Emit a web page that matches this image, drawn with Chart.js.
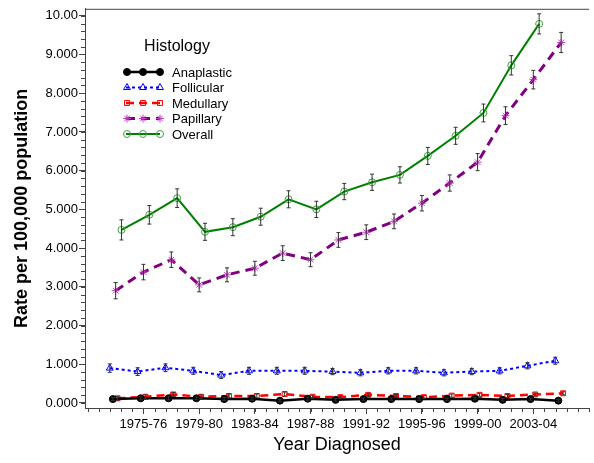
<!DOCTYPE html>
<html>
<head>
<meta charset="utf-8">
<script src="https://cdn.jsdelivr.net/npm/chart.js@4.4.1/dist/chart.umd.min.js"></script>
<style>
  html, body { margin: 0; padding: 0; background: #fff; }
  #wrap { width: 594px; height: 463px; }
</style>
</head>
<body>
<div id="wrap"><canvas id="rateChart" width="594" height="463"></canvas></div>
<script>
// Year Diagnosed periods (2-year groups)
const periods = ['1973-74', '1975-76', '1977-78', '1979-80', '1981-82', '1983-84', '1985-86', '1987-88',
    '1989-90', '1991-92', '1993-94', '1995-96', '1997-98', '1999-00', '2001-02', '2003-04', '2005-06'];
const xTickLabels = ['1975-76', '1979-80', '1983-84', '1987-88', '1991-92', '1995-96', '1999-00', '2003-04'];
const yTickLabels = ['0.000', '1.000', '2.000', '3.000', '4.000', '5.000', '6.000', '7.000', '8.000', '9.000', '10.00'];

// rate per 100,000 and half-width of the error bar
const anaplastic = [0.10, 0.12, 0.12, 0.12, 0.10, 0.11, 0.06, 0.11, 0.08, 0.10, 0.10, 0.10, 0.10, 0.11, 0.08, 0.10, 0.06];
const anaplasticErr = [0.04, 0.04, 0.04, 0.04, 0.04, 0.04, 0.03, 0.04, 0.03, 0.03, 0.03, 0.03, 0.03, 0.03, 0.03, 0.03, 0.03];
const follicular = [0.90, 0.81, 0.91, 0.83, 0.72, 0.83, 0.83, 0.83, 0.81, 0.78, 0.83, 0.83, 0.78, 0.81, 0.83, 0.96, 1.09];
const follicularErr = [0.11, 0.10, 0.10, 0.09, 0.09, 0.09, 0.09, 0.09, 0.08, 0.08, 0.08, 0.08, 0.08, 0.08, 0.08, 0.08, 0.09];
const medullary = [0.12, 0.16, 0.22, 0.16, 0.18, 0.18, 0.23, 0.16, 0.15, 0.21, 0.18, 0.15, 0.19, 0.21, 0.18, 0.22, 0.25];
const medullaryErr = [0.05, 0.05, 0.05, 0.05, 0.05, 0.05, 0.05, 0.04, 0.04, 0.04, 0.04, 0.04, 0.04, 0.04, 0.04, 0.04, 0.04];
const papillary = [2.90, 3.38, 3.70, 3.05, 3.31, 3.48, 3.87, 3.70, 4.21, 4.41, 4.69, 5.16, 5.68, 6.22, 7.42, 8.35, 9.31];
const papillaryErr = [0.21, 0.20, 0.20, 0.18, 0.18, 0.18, 0.19, 0.18, 0.19, 0.19, 0.19, 0.20, 0.21, 0.22, 0.23, 0.24, 0.26];
const overall = [4.47, 4.86, 5.29, 4.42, 4.54, 4.81, 5.26, 5.00, 5.46, 5.70, 5.89, 6.38, 6.90, 7.49, 8.72, 9.79];
const overallErr = [0.26, 0.24, 0.24, 0.22, 0.22, 0.22, 0.22, 0.21, 0.21, 0.21, 0.21, 0.22, 0.22, 0.23, 0.25, 0.26];

function makeSeries(label, values, errors, shift, style) {
    return Object.assign({
        label: label,
        data: values.map((v, i) => ({ x: i + shift, y: v })),
        errors: errors,
        fill: false,
        tension: 0,
        pointHoverRadius: 0
    }, style);
}

const datasets = [
    makeSeries('Anaplastic', anaplastic, anaplasticErr, -0.1, {
        borderColor: '#000', borderWidth: 2.5, pointStyle: 'circle', pointRadius: 3.5,
        pointBackgroundColor: '#000', pointBorderColor: '#000', pointBorderWidth: 1
    }),
    makeSeries('Follicular', follicular, follicularErr, -0.21, {
        borderColor: '#0000ff', borderWidth: 2, borderDash: [3, 3], pointStyle: 'triangle', pointRadius: 4,
        pointBackgroundColor: 'rgba(0,0,0,0)', pointBorderColor: '#0000ff', pointBorderWidth: 1
    }),
    makeSeries('Medullary', medullary, medullaryErr, 0.07, {
        borderColor: '#ff0000', borderWidth: 2.5, borderDash: [8, 5], pointStyle: 'rect', pointRadius: 3.5,
        pointBackgroundColor: 'rgba(0,0,0,0)', pointBorderColor: '#ff0000', pointBorderWidth: 1
    }),
    makeSeries('Papillary', papillary, papillaryErr, 0, {
        borderColor: '#800080', borderWidth: 3, borderDash: [9, 6], pointStyle: 'star', pointRadius: 4,
        pointBackgroundColor: 'rgba(0,0,0,0)', pointBorderColor: '#c040c0', pointBorderWidth: 1
    }),
    makeSeries('Overall', overall, overallErr, 0.21, {
        borderColor: '#008000', borderWidth: 2, pointStyle: 'circle', pointRadius: 3.5,
        pointBackgroundColor: 'rgba(0,0,0,0)', pointBorderColor: '#40a040', pointBorderWidth: 1
    })
];

const errorBars = {
    id: 'errorBars',
    afterDatasetsDraw(chart) {
        const ctx = chart.ctx;
        const y = chart.scales.y;
        ctx.save();
        ctx.strokeStyle = '#333';
        ctx.lineWidth = 1;
        chart.data.datasets.forEach((ds, i) => {
            const meta = chart.getDatasetMeta(i);
            meta.data.forEach((pt, j) => {
                const v = ds.data[j].y, e = ds.errors[j];
                const top = y.getPixelForValue(v + e), bot = y.getPixelForValue(v - e);
                ctx.beginPath();
                ctx.moveTo(pt.x, top); ctx.lineTo(pt.x, bot);
                ctx.moveTo(pt.x - 2, top); ctx.lineTo(pt.x + 2, top);
                ctx.moveTo(pt.x - 2, bot); ctx.lineTo(pt.x + 2, bot);
                ctx.stroke();
            });
        });
        ctx.restore();
    }
};

const frame = {
    id: 'frame',
    afterDraw(chart) {
        const ctx = chart.ctx;
        const a = chart.chartArea;
        const xs = chart.scales.x, ys = chart.scales.y;
        ctx.save();
        ctx.strokeStyle = '#444';
        ctx.lineWidth = 1;
        ctx.beginPath();
        ctx.moveTo(a.left, a.top + 0.5); ctx.lineTo(a.right, a.top + 0.5);
        // minor ticks
        for (let v = -1.0; v <= xs.max + 0.001; v += 0.4) {
            const px = Math.round(xs.getPixelForValue(v)) + 0.5;
            ctx.moveTo(px, a.bottom); ctx.lineTo(px, a.bottom + 4);
        }
        for (let k = 0; k <= 50; k++) {
            const py = Math.round(ys.getPixelForValue(k * 0.2)) + 0.5;
            ctx.moveTo(a.left, py); ctx.lineTo(a.left - 4, py);
        }
        ctx.stroke();
        ctx.restore();
    }
};

const legendBox = {
    id: 'legendBox',
    afterDraw(chart) {
        const ctx = chart.ctx;
        ctx.save();
        ctx.fillStyle = '#000';
        ctx.font = '16px "Liberation Sans", Arial, sans-serif';
        ctx.textAlign = 'center';
        ctx.textBaseline = 'middle';
        ctx.fillText('Histology', 177, 47);
        ctx.font = '13px "Liberation Sans", Arial, sans-serif';
        ctx.textAlign = 'left';
        chart.data.datasets.forEach((ds, i) => {
            const rowY = 72 + i * 15.5;
            ctx.save();
            ctx.strokeStyle = ds.borderColor;
            ctx.lineWidth = ds.borderWidth;
            ctx.setLineDash(ds.borderDash || []);
            ctx.beginPath();
            ctx.moveTo(126, rowY); ctx.lineTo(160, rowY);
            ctx.stroke();
            ctx.setLineDash([]);
            ctx.strokeStyle = ds.pointBorderColor;
            ctx.fillStyle = ds.pointBackgroundColor;
            ctx.lineWidth = ds.pointBorderWidth;
            [127, 143, 160].forEach(px => {
                Chart.helpers.drawPoint(ctx, {
                    pointStyle: ds.pointStyle, radius: ds.pointRadius, rotation: 0, borderWidth: 1
                }, px, rowY);
            });
            ctx.restore();
            ctx.fillStyle = '#000';
            ctx.fillText(ds.label, 172, rowY + 1);
        });
        ctx.restore();
    }
};

new Chart(document.getElementById('rateChart'), {
    type: 'line',
    data: { datasets: datasets },
    options: {
        responsive: false,
        animation: false,
        events: [],
        layout: { padding: { top: 8, right: 0, left: 0, bottom: 0 } },
        plugins: {
            legend: { display: false },
            tooltip: { enabled: false }
        },
        scales: {
            x: {
                type: 'linear',
                min: -1.1,
                max: 17.0,
                afterFit: s => { s.height = 55; },
                afterBuildTicks: s => { s.ticks = xTickLabels.map(l => ({ value: periods.indexOf(l) })); },
                ticks: {
                    callback: v => periods[v],
                    color: '#000',
                    padding: 3,
                    maxRotation: 0,
                    autoSkip: false,
                    font: { family: '"Liberation Sans", Arial, sans-serif', size: 13 }
                },
                grid: { drawOnChartArea: false, tickLength: 6, tickColor: '#444' },
                border: { color: '#444' },
                title: {
                    display: true,
                    text: 'Year Diagnosed',
                    color: '#000',
                    padding: { top: 0, bottom: 7 },
                    font: { family: '"Liberation Sans", Arial, sans-serif', size: 18 }
                }
            },
            y: {
                min: -0.13,
                max: 10.18,
                afterFit: s => { s.width = 85; },
                afterBuildTicks: s => { s.ticks = yTickLabels.map((l, i) => ({ value: i })); },
                ticks: {
                    callback: (v, i) => yTickLabels[i],
                    color: '#000',
                    padding: 1,
                    font: { family: '"Liberation Sans", Arial, sans-serif', size: 13 }
                },
                grid: { drawOnChartArea: false, tickLength: 6, tickColor: '#444' },
                border: { color: '#444' },
                title: {
                    display: true,
                    text: 'Rate per 100,000 population',
                    color: '#000',
                    padding: { top: 11, bottom: 0 },
                    font: { family: '"Liberation Sans", Arial, sans-serif', size: 18, weight: 'bold' }
                }
            }
        }
    },
    plugins: [errorBars, frame, legendBox]
});
</script>
</body>
</html>
